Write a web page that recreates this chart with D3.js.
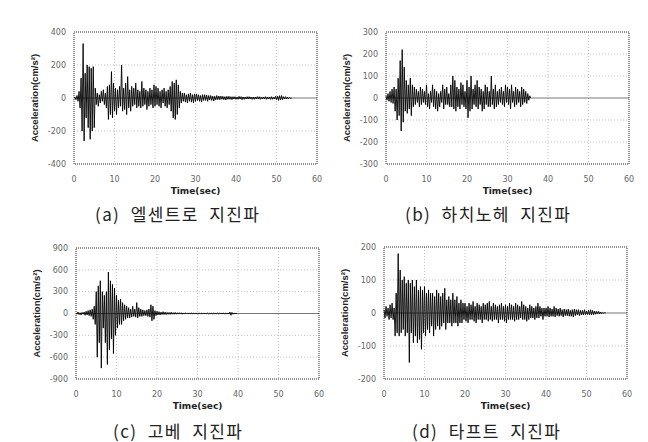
<!DOCTYPE html>
<html><head><meta charset="utf-8">
<script src="https://cdn.jsdelivr.net/npm/d3@7"></script>
<style>body{margin:0;background:#fff}svg{display:block}.cap{white-space:pre;letter-spacing:1.4px}</style>
</head><body>
<svg id="c" width="648" height="442"></svg>
<script>
// ---- data (acceleration samples every 0.25 s) ----
const timeStep = 0.25;
const xTicks = [0, 10, 20, 30, 40, 50, 60];
const captions = ["(a)  엘센트로  지진파", "(b)  하치노헤  지진파", "(c)  고베  지진파", "(d)  타프트  지진파"];
const yTicksA = [-400, -200, 0, 200, 400];
const yTicksB = [-300, -200, -100, 0, 100, 200, 300];
const yTicksC = [-900, -600, -300, 0, 300, 600, 900];
const yTicksD = [-200, -100, 0, 100, 200];

const elCentro = [
 0,5,-10,15, -20,40,-60,120, -200,330,-260,150, -120,200,-180,190, -250,180,-200,190,
 -180,60,-40,30, -50,20,-30,40, -20,50,-40,30, -60,70,-130,80, -100,160,-120,90,
 -80,60,-100,50, -60,70,-50,200, -80,60,-70,90, -100,130,-60,50, -80,70,-50,60,
 -40,90,-60,50, -50,40,-60,100, -50,60,-40,50, -70,40,-50,60, -40,50,-60,80,
 -50,70,-40,60, -50,40,-60,50, -30,60,-50,40, -60,50,-40,70, -80,100,-120,90,
 -130,110,-100,80, -60,40,-30,30, -20,30,-25,20, -30,25,-20,30, -25,20,-30,25,
 -20,25,-15,20, -20,15,-25,20, -15,20,-15,18, -20,15,-12,15, -15,12,-18,10,
 -12,15,-10,12, -10,12,-8,10, -10,8,-12,10, -8,10,-8,8, -10,8,-6,8,
 -8,6,-8,10, -6,8,-10,6, -8,6,-6,8, -6,8,-6,6, -8,6,-8,6,
 -6,8,-6,8, -8,6,-6,6, -6,8,-8,6, -6,6,-8,8, -8,6,-6,10,
 -10,12,-15,14, -12,15,-10,8, -6,8,-6,5, -4,3,-2,0
];
const hachinohe = [
 10,-10,20,-15, 30,-20,40,-25, 50,-60,40,-100, 90,-80,170,-150, 220,-110,140,-60,
 80,-70,60,-50, 90,-80,60,-40, 50,-30,40,-20, 30,-40,50,-30, 40,-20,30,-30,
 60,-40,20,-50, 30,-20,60,-40, 40,-50,30,-60, 20,-40,30,-20, 60,-50,40,-30,
 50,-30,20,-40, 60,-40,100,-50, 80,-60,50,-40, 40,-50,70,-30, 60,-40,30,-50,
 80,-90,50,-60, 100,-50,40,-30, 60,-40,80,-50, 50,-30,40,-60, 30,-50,60,-30,
 50,-40,30,-40, 100,-30,40,-50, 60,-40,30,-30, 40,-20,50,-30, 30,-40,60,-20,
 50,-30,40,-50, 60,-20,30,-40, 50,-30,40,-20, 30,-40,50,-30, 40,-20,30,-25,
 20,-10,10,0
];
const kobe = [
 5,-10,20,-15, 10,-20,15,-10, 20,-25,30,-20, 40,-30,50,-40, 60,-80,100,-150,
 300,-600,380,-400, 450,-750,300,-200, 250,-400,300,-700, 570,-500,450,-350, 400,-550,350,-300,
 250,-200,180,-150, 200,-150,150,-100, 120,-80,100,-60, 80,-60,60,-50, 100,-40,60,-50,
 150,-60,80,-40, 60,-40,50,-30, 40,-30,50,-40, 60,-50,120,-100, 100,-80,40,-30,
 30,-20,25,-20, 20,-15,25,-15, 20,-15,15,-12, 15,-12,18,-10, 12,-10,15,-10,
 10,-8,12,-8, 10,-10,8,-8, 10,-6,8,-8, 8,-8,10,-6, 6,-8,8,-6,
 8,-6,6,-8, 6,-6,8,-6, 8,-6,6,-6, 6,-8,6,-6, 6,-6,8,-6,
 6,-6,6,-6, 8,-6,6,-6, 6,-6,6,-8, 20,-25,15,-10, 5,-3,2,0
];
const taft = [
 10,-15,20,-10, 15,-20,25,-15, 30,-20,15,-70, 60,-60,180,-70, 130,-60,100,-50,
 110,-70,90,-60, 100,-150,90,-60, 100,-90,80,-70, 100,-90,70,-80, 80,-110,70,-60,
 80,-70,60,-50, 70,-60,60,-40, 60,-70,50,-50, 70,-40,60,-50, 50,-40,60,-30,
 75,-50,40,-30, 50,-30,40,-40, 60,-30,40,-30, 50,-40,30,-30, 40,-30,30,-20,
 30,-25,20,-30, 30,-20,25,-20, 35,-25,20,-30, 30,-20,25,-20, 20,-30,30,-20,
 25,-20,30,-25, 35,-20,20,-25, 30,-20,25,-20, 20,-30,25,-20, 30,-20,20,-25,
 25,-30,20,-20, 30,-20,25,-20, 20,-25,30,-20, 25,-20,20,-15, 35,-20,25,-20,
 20,-25,15,-20, 25,-15,20,-15, 15,-20,20,-15, 30,-15,20,-10, 15,-20,15,-10,
 15,-10,20,-12, 15,-10,12,-10, 20,-12,15,-8, 12,-10,15,-8, 10,-12,12,-8,
 10,-8,12,-10, 8,-10,10,-12, 12,-8,10,-6, 10,-8,8,-6, 8,-6,10,-5,
 6,-5,8,-6, 10,-6,8,-5, 6,-4,5,-3, 5,-3,3,-2, 2,-1,1,0
];

// ---- layout ----
const panels = [
  {values: elCentro,  yTicks: yTicksA, box: {l: 74,  r: 317, t: 32,  b: 164}, cap: {x: 95,  y: 221}},
  {values: hachinohe, yTicks: yTicksB, box: {l: 386, r: 629, t: 32,  b: 164}, cap: {x: 405, y: 221}},
  {values: kobe,      yTicks: yTicksC, box: {l: 76,  r: 319, t: 248, b: 379}, cap: {x: 113, y: 438}},
  {values: taft,      yTicks: yTicksD, box: {l: 384, r: 627, t: 247, b: 379}, cap: {x: 412, y: 438}}
];

const svg = d3.select("#c");
panels.forEach((p, i) => {
  const B = p.box;
  const x = d3.scaleLinear().domain([0, 60]).range([B.l, B.r]);
  const yMax = d3.max(p.yTicks);
  const y = d3.scaleLinear().domain([-yMax, yMax]).range([B.b, B.t]);
  const g = svg.append("g");

  // grid
  g.selectAll(".gx").data(xTicks.slice(1, -1)).join("line")
    .attr("x1", d => x(d)).attr("x2", d => x(d)).attr("y1", B.t).attr("y2", B.b)
    .attr("stroke", "#b0b0b0").attr("stroke-width", 0.8).attr("stroke-dasharray", "1,2");
  g.selectAll(".gy").data(p.yTicks.slice(1, -1).filter(d => d !== 0)).join("line")
    .attr("y1", d => y(d)).attr("y2", d => y(d)).attr("x1", B.l).attr("x2", B.r)
    .attr("stroke", "#b0b0b0").attr("stroke-width", 0.8).attr("stroke-dasharray", "1,2");

  // zero line
  g.append("line").attr("x1", B.l).attr("x2", B.r).attr("y1", y(0)).attr("y2", y(0))
    .attr("stroke", "#777").attr("stroke-width", 1);

  // data
  const line = d3.line().x((d, k) => x(k * timeStep)).y(d => y(d));
  g.append("path").datum(p.values).attr("d", line)
    .attr("fill", "none").attr("stroke", "#000").attr("stroke-width", 0.9);

  // frame
  g.append("rect").attr("x", B.l).attr("y", B.t).attr("width", B.r - B.l).attr("height", B.b - B.t)
    .attr("fill", "none").attr("stroke", "#222").attr("stroke-width", 1).attr("stroke-dasharray", "1,1");

  // tick labels
  g.selectAll(".yl").data(p.yTicks).join("text")
    .attr("x", B.l - 8).attr("y", d => y(d)).attr("dy", "0.35em")
    .attr("text-anchor", "end").attr("font-family", "DejaVu Sans").attr("font-size", 8)
    .attr("fill", "#666").text(d => d);
  g.selectAll(".xl").data(xTicks).join("text")
    .attr("x", d => x(d)).attr("y", B.b + 15).attr("dy", "0.35em")
    .attr("text-anchor", "middle").attr("font-family", "DejaVu Sans").attr("font-size", 8)
    .attr("fill", "#666").text(d => d);

  // axis titles
  g.append("text").attr("x", (B.l + B.r) / 2).attr("y", B.b + 27).attr("dy", "0.35em")
    .attr("text-anchor", "middle").attr("font-family", "DejaVu Sans").attr("font-weight", "bold")
    .attr("font-size", 9).attr("fill", "#222").text("Time(sec)");
  g.append("text").attr("transform", `translate(${B.l - 39},${(B.t + B.b) / 2}) rotate(-90)`)
    .attr("dy", "0.35em").attr("text-anchor", "middle").attr("font-family", "Liberation Sans")
    .attr("font-weight", "bold").attr("font-size", 9.5).attr("fill", "#222")
    .text("Acceleration(cm/s²)");

  // caption
  svg.append("text").attr("class", "cap").attr("x", p.cap.x).attr("y", p.cap.y)
    .attr("font-family", "Noto Sans CJK KR").attr("font-size", 17).attr("fill", "#222")
    .text(captions[i]);
});
</script>
</body></html>
